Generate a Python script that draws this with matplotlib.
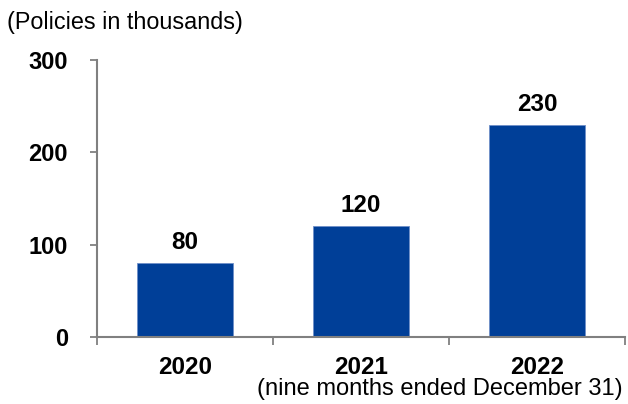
import matplotlib.pyplot as plt
from matplotlib.ticker import FixedLocator

plt.rcParams['font.family'] = ['Liberation Sans', 'DejaVu Sans']

# Policies in thousands by fiscal year
years = ["2020", "2021", "2022"]
policies = [80, 120, 230]
yticks = [0, 100, 200, 300]

bar_color = "#003F98"
axis_color = "#808080"

fig = plt.figure(figsize=(6.28, 4.04), dpi=100)
ax = fig.add_axes([0.1545, 0.166, 0.8405, 0.685])

x = range(len(years))
bars = ax.bar(x, policies, width=0.55, color=bar_color, edgecolor="#6f8fc8", linewidth=0.6)

for xi, v in zip(x, policies):
    ax.text(xi, v + 10, str(v), ha="center", va="bottom", fontsize=17.5, fontweight="bold")

ax.set_xlim(-0.5, len(years) - 0.5)
ax.set_ylim(0, 300)
ax.set_yticks(yticks)
ax.set_yticklabels([str(t) for t in yticks], fontsize=17, fontweight="bold")
ax.set_xticks(list(x))
ax.set_xticklabels(years, fontsize=17.5, fontweight="bold")
ax.xaxis.set_minor_locator(FixedLocator([i - 0.5 for i in range(len(years) + 1)]))

ax.tick_params(axis="x", which="major", length=0, pad=14)
ax.tick_params(axis="x", which="minor", length=6, width=1.3, color=axis_color)
ax.tick_params(axis="y", length=5, width=1.3, color=axis_color, pad=16)

for side in ["top", "right"]:
    ax.spines[side].set_visible(False)
for side in ["left", "bottom"]:
    ax.spines[side].set_color(axis_color)
    ax.spines[side].set_linewidth(1.5)

fig.text(0.011, 0.944, "(Policies in thousands)", fontsize=16.8, ha="left", va="center")
fig.text(0.991, 0.036, "(nine months ended December 31)", fontsize=17, ha="right", va="center")

fig.savefig("out.png", dpi=100)
